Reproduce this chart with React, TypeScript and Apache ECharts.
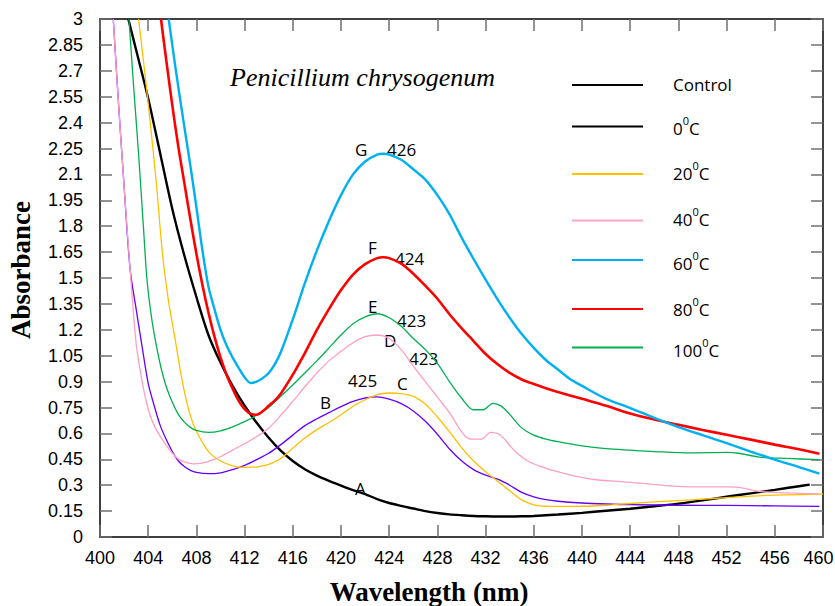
import React, { useEffect, useRef } from "react";
import * as echarts from "echarts";

// ---- data (wavelength nm, absorbance) ----
const controlA: [number, number][] = [
  [402.35, 3.0], [403, 2.82], [404, 2.54], [405, 2.22], [406, 1.9], [407, 1.63], [408, 1.39],
  [409, 1.17], [410, 1.01], [411, 0.875], [412, 0.76], [413, 0.662], [414, 0.575], [415, 0.5],
  [416, 0.44], [417, 0.392], [418, 0.355], [419, 0.325], [420, 0.298], [421, 0.272], [422, 0.248],
  [423, 0.22], [424, 0.197], [425, 0.18], [426, 0.165], [427, 0.15], [428, 0.139], [429, 0.131],
  [430, 0.126], [431, 0.122], [432, 0.12], [433, 0.119], [434, 0.119], [435, 0.12], [436, 0.122],
  [438, 0.13], [440, 0.14], [442, 0.152], [444, 0.164], [446, 0.178], [448, 0.193], [450, 0.212],
  [452, 0.233], [454, 0.253], [456, 0.273], [458, 0.294], [458.9, 0.303],
];

const seriesB: [number, number][] = [
  [401.1, 3.0], [401.5, 2.55], [402, 2.03], [402.5, 1.55], [403, 1.32], [403.5, 1.1], [404, 0.89],
  [404.5, 0.76], [405, 0.645], [405.5, 0.565], [406, 0.495], [406.5, 0.44], [407, 0.408],
  [407.5, 0.386], [408, 0.374], [409, 0.367], [410, 0.372], [411, 0.39], [412, 0.415], [413, 0.448],
  [414, 0.485], [415, 0.535], [416, 0.59], [417, 0.645], [418, 0.685], [419, 0.72], [420, 0.755],
  [421, 0.785], [422, 0.805], [423, 0.812], [424, 0.798], [425, 0.772], [426, 0.73], [427, 0.67],
  [428, 0.595], [429, 0.51], [430, 0.442], [431, 0.39], [432, 0.358], [433, 0.335], [434, 0.3],
  [435, 0.258], [436, 0.232], [437, 0.216], [438, 0.207], [440, 0.197], [442, 0.191], [444, 0.187],
  [448, 0.184], [452, 0.183], [456, 0.18], [459.7, 0.177],
];

const seriesC20: [number, number][] = [
  [403.2, 3.0], [403.7, 2.7], [404.2, 2.38], [404.7, 2.03], [405.2, 1.63], [405.7, 1.36],
  [406.2, 1.16], [406.7, 0.95], [407.2, 0.78], [407.7, 0.66], [408.2, 0.585], [408.7, 0.525],
  [409.2, 0.48], [410, 0.44], [411, 0.412], [412, 0.403], [413, 0.406], [414, 0.42], [415, 0.455],
  [416, 0.515], [417, 0.573], [418, 0.622], [419, 0.663], [420, 0.708], [421, 0.757], [422, 0.795],
  [423, 0.825], [424, 0.834], [425, 0.83], [426, 0.814], [427, 0.77], [428, 0.695], [429, 0.61],
  [430, 0.518], [431, 0.44], [432, 0.378], [433, 0.323], [434, 0.268], [435, 0.215], [436, 0.186],
  [437, 0.178], [438, 0.177], [440, 0.178], [442, 0.184], [444, 0.194], [446, 0.203], [449, 0.215],
  [452, 0.228], [455, 0.24], [457, 0.244], [460, 0.248],
];

const seriesD40: [number, number][] = [
  [401.1, 3.0], [401.5, 2.55], [402, 2.03], [402.5, 1.55], [403, 1.12], [403.5, 0.9], [404, 0.74],
  [404.5, 0.645], [405, 0.583], [405.5, 0.53], [406, 0.485], [406.5, 0.452], [407, 0.435],
  [407.7, 0.424], [408.5, 0.428], [409.5, 0.45], [410, 0.465], [411, 0.503], [412, 0.54],
  [413, 0.582], [414, 0.63], [415, 0.705], [416, 0.785], [417, 0.87], [418, 0.95], [419, 1.02],
  [420, 1.075], [421, 1.125], [422, 1.16], [423, 1.17], [424, 1.15], [425, 1.085], [426, 0.99],
  [427, 0.9], [428, 0.81], [429, 0.72], [429.9, 0.62], [430.4, 0.578], [430.8, 0.567],
  [431.7, 0.567], [432.4, 0.606], [433.2, 0.592], [434, 0.53], [434.6, 0.486], [435.5, 0.44],
  [436.5, 0.41], [437.5, 0.387], [439, 0.36], [441, 0.333], [443, 0.322], [445, 0.31], [447, 0.298],
  [449, 0.29], [452, 0.29], [453, 0.288], [454.7, 0.264], [457, 0.255], [459.7, 0.25],
];

const seriesG60: [number, number][] = [
  [405.7, 3.0], [406.3, 2.7], [406.9, 2.42], [407.5, 2.15], [408, 1.91], [408.5, 1.66], [409, 1.45],
  [409.5, 1.32], [410, 1.2], [410.5, 1.11], [411, 1.04], [411.5, 0.98], [412, 0.925], [412.5, 0.892],
  [413, 0.9], [413.5, 0.92], [414, 0.95], [414.5, 1.0], [415, 1.07], [416, 1.26], [417, 1.47],
  [418, 1.66], [419, 1.83], [420, 1.98], [421, 2.1], [422, 2.175], [423, 2.215], [423.5, 2.22],
  [424, 2.215], [425, 2.185], [426, 2.13], [427, 2.07], [428, 1.98], [429, 1.87], [430, 1.735],
  [431, 1.61], [432, 1.49], [433, 1.375], [434, 1.27], [435, 1.175], [436, 1.095], [437, 1.025],
  [438, 0.97], [439, 0.915], [440, 0.875], [442, 0.8], [444, 0.747], [446, 0.69], [448, 0.637],
  [450, 0.59], [452, 0.544], [454, 0.495], [456, 0.448], [458, 0.405], [459.7, 0.367],
];

const seriesF80: [number, number][] = [
  [405.06, 3.0], [405.5, 2.76], [406, 2.5], [406.5, 2.26], [407, 2.05], [407.5, 1.84], [408, 1.64],
  [408.5, 1.46], [409, 1.3], [409.5, 1.16], [410, 1.04], [410.5, 0.94], [411, 0.86], [411.5, 0.79],
  [412, 0.74], [412.5, 0.713], [413, 0.708], [413.5, 0.728], [414, 0.76], [414.5, 0.79], [415, 0.83],
  [416, 0.94], [417, 1.065], [418, 1.2], [419, 1.32], [420, 1.43], [421, 1.52], [422, 1.58],
  [423, 1.615], [423.5, 1.62], [424, 1.615], [425, 1.583], [426, 1.525], [427, 1.455], [428, 1.38],
  [429, 1.29], [430, 1.21], [431, 1.135], [432, 1.06], [433, 1.0], [434, 0.95], [435, 0.912],
  [436, 0.886], [437, 0.862], [438, 0.84], [440, 0.8], [442, 0.76], [444, 0.715], [446, 0.68],
  [448, 0.65], [450, 0.62], [452, 0.592], [454, 0.564], [456, 0.535], [458, 0.508], [459.7, 0.482],
];

const seriesE100: [number, number][] = [
  [402.4, 3.0], [402.8, 2.6], [403.2, 2.22], [403.6, 1.8], [403.9, 1.49], [404.3, 1.26],
  [404.7, 1.1], [405.1, 0.97], [405.5, 0.87], [406, 0.78], [406.5, 0.71], [407, 0.665],
  [407.5, 0.635], [408, 0.617], [409, 0.606], [410, 0.615], [411, 0.638], [412, 0.668], [413, 0.705],
  [414, 0.75], [415, 0.815], [416, 0.88], [417, 0.95], [418, 1.02], [419, 1.095], [420, 1.17],
  [421, 1.235], [422, 1.275], [423, 1.293], [424, 1.27], [425, 1.22], [426, 1.15], [427, 1.085],
  [428, 1.005], [429, 0.9], [430, 0.805], [431, 0.737], [431.8, 0.737], [432.6, 0.774],
  [433.3, 0.758], [434, 0.71], [435, 0.632], [436, 0.59], [437, 0.567], [438, 0.552], [440, 0.528],
  [442, 0.512], [444, 0.503], [446, 0.495], [449, 0.487], [452, 0.49], [453, 0.485], [454.7, 0.463],
  [457, 0.455], [459.7, 0.448],
];

const legendNames = ["Control", "0", "20", "40", "60", "80", "100"];

// ---- styling / layout ----
const SERIES = [
  { name: "Control", data: controlA, color: "#000000", width: 2.4 },
  { name: "B", data: seriesB, color: "#6600FF", width: 1.3 },
  { name: "20C", data: seriesC20, color: "#FFC000", width: 1.3 },
  { name: "40C", data: seriesD40, color: "#FF9FC4", width: 1.3 },
  { name: "100C", data: seriesE100, color: "#00B050", width: 1.3 },
  { name: "80C", data: seriesF80, color: "#FF0000", width: 2.6 },
  { name: "60C", data: seriesG60, color: "#00B0F0", width: 2.4 },
];

const LEGEND_STYLE = [
  { color: "#000000", width: 2, lineY: 85, textY: 81 },
  { color: "#000000", width: 2, lineY: 126.5, textY: 125 },
  { color: "#FFC000", width: 2, lineY: 174, textY: 170 },
  { color: "#FFA6C9", width: 2, lineY: 220.5, textY: 216 },
  { color: "#00B0F0", width: 2, lineY: 260, textY: 260 },
  { color: "#FF0000", width: 2, lineY: 309, textY: 306 },
  { color: "#00B050", width: 2, lineY: 347.5, textY: 347 },
];

const ANNOTATIONS = [
  { t: "G", x: 355, y: 149 },
  { t: "426", x: 387, y: 149 },
  { t: "F", x: 368, y: 247 },
  { t: "424", x: 395, y: 258 },
  { t: "E", x: 368, y: 306 },
  { t: "423", x: 397, y: 320 },
  { t: "D", x: 384, y: 340 },
  { t: "423", x: 409, y: 358 },
  { t: "425", x: 348, y: 380 },
  { t: "C", x: 397, y: 383 },
  { t: "B", x: 320, y: 402 },
  { t: "A", x: 355, y: 488 },
];

const SANS = "'Open Sans', 'Liberation Sans', sans-serif";

export default function App() {
  const ref = useRef<HTMLDivElement>(null);

  useEffect(() => {
    document.body.style.margin = "0";
    const chart = echarts.init(ref.current!, null, { renderer: "svg" });

    const axisLine = { show: true, onZero: false, lineStyle: { color: "#000", width: 1.5 } };
    const axisTick = { show: true, inside: true, length: 12, lineStyle: { color: "#6f6f6f", width: 1.5 } };
    const labelStyle = { color: "#000", fontFamily: "'Liberation Sans', Arial, sans-serif", fontSize: 18 };

    const legendGraphics: any[] = [];
    legendNames.forEach((n, i) => {
      const s = LEGEND_STYLE[i];
      legendGraphics.push({
        type: "line",
        shape: { x1: 572, y1: s.lineY, x2: 643, y2: s.lineY },
        style: { stroke: s.color, lineWidth: s.width },
      });
      const text = n === "Control" ? "{a|Control}" : `{a|${n}}{s|0}{a|C}`;
      legendGraphics.push({
        type: "text",
        x: 673,
        y: s.textY,
        style: {
          text,
          verticalAlign: "middle",
          align: "left",
          rich: {
            a: { fontFamily: SANS, fontSize: 17, fill: "#000", lineHeight: 24, verticalAlign: "bottom" },
            s: { fontFamily: SANS, fontSize: 11, fill: "#000", lineHeight: 24, verticalAlign: "top", padding: [2, 0, 0, 0] },
          },
        },
      });
    });

    const annGraphics = ANNOTATIONS.map((a) => ({
      type: "text",
      x: a.x,
      y: a.y,
      style: { text: a.t, fontFamily: SANS, fontSize: 17, fill: "#000", verticalAlign: "middle", align: "left" },
    }));

    chart.setOption({
      animation: false,
      backgroundColor: "#fff",
      grid: { left: 100, right: 12, top: 19, bottom: 69, containLabel: false, outerBoundsMode: "none" },
      xAxis: [
        {
          type: "value", min: 400, max: 460, interval: 4, position: "bottom",
          axisLine, axisTick,
          axisLabel: {
            ...labelStyle, margin: 12, showMinLabel: true, showMaxLabel: true,
            formatter: (v: number) => (v === 460 ? `{r|${v}}` : String(v)),
            rich: { r: { ...labelStyle, padding: [0, 9, 0, 0] } },
          },
          splitLine: { show: false },
        },
        {
          type: "value", min: 400, max: 460, interval: 4, position: "top",
          axisLine, axisTick, axisLabel: { show: false }, splitLine: { show: false },
        },
      ],
      yAxis: [
        {
          type: "value", min: 0, max: 3, interval: 0.15, position: "left",
          axisLine, axisTick,
          axisLabel: { ...labelStyle, margin: 17, formatter: (v: number) => String(+v.toFixed(2)) },
          splitLine: { show: false },
        },
        {
          type: "value", min: 0, max: 3, interval: 0.15, position: "right",
          axisLine, axisTick, axisLabel: { show: false }, splitLine: { show: false },
        },
      ],
      series: SERIES.map((s) => ({
        type: "line",
        name: s.name,
        data: s.data,
        xAxisIndex: 0,
        yAxisIndex: 0,
        symbol: "none",
        showSymbol: false,
        smooth: 0.3,
        clip: true,
        silent: true,
        lineStyle: { color: s.color, width: s.width },
      })),
      graphic: [
        {
          type: "text", x: 230, y: 77,
          style: {
            text: "Penicillium chrysogenum",
            fontFamily: "'Liberation Serif', 'Times New Roman', serif",
            fontStyle: "italic", fontSize: 26, fill: "#000",
            verticalAlign: "middle", align: "left",
          },
        },
        {
          type: "text", x: 21, y: 270, rotation: Math.PI / 2,
          style: {
            text: "Absorbance",
            fontFamily: "'Liberation Serif', 'Times New Roman', serif",
            fontWeight: "bold", fontSize: 27, fill: "#000",
            verticalAlign: "middle", align: "center",
          },
        },
        {
          type: "text", x: 429, y: 592,
          style: {
            text: "Wavelength (nm)",
            fontFamily: "'Liberation Serif', 'Times New Roman', serif",
            fontWeight: "bold", fontSize: 27, fill: "#000",
            verticalAlign: "middle", align: "center",
          },
        },
        ...legendGraphics,
        ...annGraphics,
      ],
    });

    return () => chart.dispose();
  }, []);

  return <div ref={ref} style={{ width: 835, height: 606 }} />;
}
